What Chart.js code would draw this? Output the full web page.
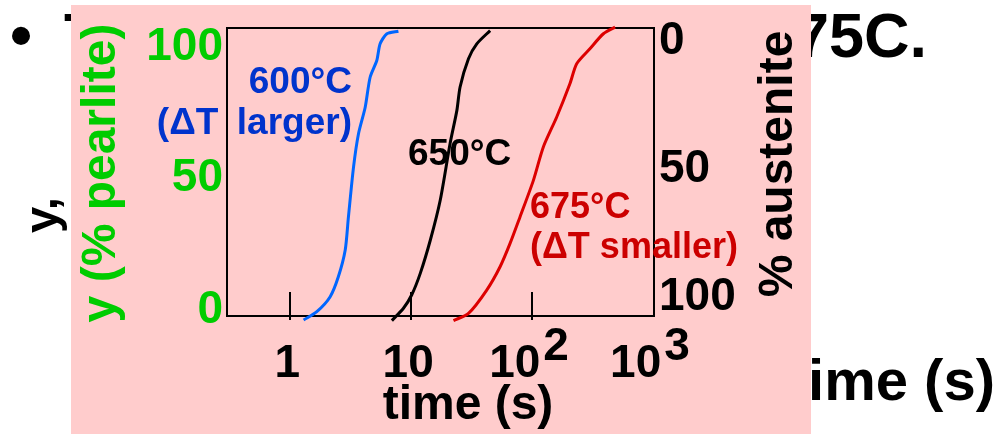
<!DOCTYPE html>
<html>
<head>
<meta charset="utf-8">
<script src="https://cdn.jsdelivr.net/npm/chart.js@4/dist/chart.umd.min.js"></script>
<style>
  body { margin: 0; background: #fff; }
  canvas { display: block; }
</style>
</head>
<body>
<canvas id="myChart" width="997" height="434"></canvas>
<script>
const FONT = '"Liberation Sans", Arial, sans-serif';

// curves: time (s) and % pearlite
const t600 = [1.29, 1.66, 2.14, 2.5, 2.85, 3.03, 3.34, 3.67, 4.17, 4.58, 5.2, 5.54, 6.3, 7.85];
const y600 = [-1.4, 1.5, 6.7, 13.6, 22.9, 34.4, 51.8, 63.3, 72.5, 82.9, 88.7, 94.5, 98, 98.9];

const t650 = [6.93, 8.64, 10.1, 11.9, 14.4, 17.4, 21, 23.9, 25.4, 29.8, 34.9, 45];
const y650 = [-1.6, 2.7, 7.3, 14.8, 26.3, 40.2, 59.9, 71.4, 79.5, 89.3, 94.5, 99.1];

const t675 = [22.4, 29.8, 42.2, 54.4, 65.8, 79.5, 102.6, 124, 160, 206, 234, 301, 389, 486];
const y675 = [-1.6, 0.9, 9, 17.1, 25.2, 34.4, 47.1, 58.7, 69.1, 80.7, 87.6, 92.8, 98, 100.3];

// tick labels
const xTickValues = [1, 10, 100, 1000];
const xTickBase = ["1", "10", "10", "10"];
const xTickExp = ["", "", "2", "3"];
const xTickMarks = [1, 10, 100];
const yLeftTicks = [0, 50, 100];
const yRightTicks = [0, 50, 100];

function pts(t, y) {
  return t.map((v, i) => ({ x: v, y: y[i] }));
}

const data = {
  datasets: [
    { label: "600°C", data: pts(t600, y600), borderColor: "#0066ff" },
    { label: "650°C", data: pts(t650, y650), borderColor: "#000000" },
    { label: "675°C", data: pts(t675, y675), borderColor: "#dd0000" },
  ],
};

const deco = {
  id: "deco",
  beforeDraw(chart) {
    const ctx = chart.ctx;
    ctx.save();
    ctx.fillStyle = "#fff";
    ctx.fillRect(0, 0, chart.width, chart.height);
    // slide text behind the pink panel
    ctx.fillStyle = "#000";
    ctx.textBaseline = "alphabetic";
    ctx.font = "bold 63px " + FONT;
    ctx.textAlign = "left";
    ctx.fillText("•", 10, 57);
    ctx.fillText("T", 64, 57);
    ctx.textAlign = "right";
    ctx.fillText("= 675C.", 927, 57);
    ctx.font = "bold 58px " + FONT;
    ctx.fillText("time (s)", 995, 400);
    ctx.save();
    ctx.translate(57, 233);
    ctx.rotate(-Math.PI / 2);
    ctx.textAlign = "left";
    ctx.font = "bold 47px " + FONT;
    ctx.fillText("y,", 0, 0);
    ctx.restore();
    // pink panel
    ctx.fillStyle = "#ffcccc";
    ctx.fillRect(71, 5, 740, 429);
    ctx.restore();
  },
  beforeDatasetsDraw(chart) {
    const ctx = chart.ctx;
    const a = chart.chartArea;
    const xs = chart.scales.x;
    ctx.save();
    ctx.strokeStyle = "#000";
    ctx.lineWidth = 2;
    ctx.strokeRect(a.left, a.top, a.right - a.left, a.bottom - a.top);
    xTickMarks.forEach((v) => {
      const px = Math.round(xs.getPixelForValue(v));
      ctx.beginPath();
      ctx.moveTo(px, a.bottom - 24);
      ctx.lineTo(px, a.bottom + 4);
      ctx.stroke();
    });
    ctx.restore();
  },
  afterDraw(chart) {
    const ctx = chart.ctx;
    const xs = chart.scales.x;
    const yl = chart.scales.yL;
    const yr = chart.scales.yR;
    ctx.save();
    ctx.textBaseline = "alphabetic";

    // x tick labels
    ctx.fillStyle = "#000";
    ctx.font = "bold 46px " + FONT;
    xTickValues.forEach((v, i) => {
      const px = xs.getPixelForValue(v) - 3;
      const wb = ctx.measureText(xTickBase[i]).width;
      const we = xTickExp[i] ? ctx.measureText(xTickExp[i]).width + 3 : 0;
      const left = px - (wb + we) / 2;
      ctx.textAlign = "left";
      ctx.fillText(xTickBase[i], left, 377);
      if (xTickExp[i]) ctx.fillText(xTickExp[i], left + wb + 3, 360);
    });

    // left ticks (% pearlite)
    ctx.textBaseline = "middle";
    ctx.fillStyle = "#00cc00";
    ctx.textAlign = "right";
    yLeftTicks.forEach((v) => {
      ctx.fillText(String(v), 223, yl.getPixelForValue(v));
    });
    // right ticks (% austenite)
    ctx.fillStyle = "#000";
    ctx.textAlign = "left";
    yRightTicks.forEach((v) => {
      ctx.fillText(String(v), 659, yr.getPixelForValue(v));
    });

    // axis titles
    ctx.textBaseline = "alphabetic";
    ctx.font = "bold 48px " + FONT;
    ctx.textAlign = "center";
    ctx.fillText("time (s)", 468, 419);
    ctx.save();
    ctx.translate(115, 173);
    ctx.rotate(-Math.PI / 2);
    ctx.fillStyle = "#00cc00";
    ctx.fillText("y (% pearlite)", 0, 0);
    ctx.restore();
    ctx.save();
    ctx.translate(792, 164);
    ctx.rotate(-Math.PI / 2);
    ctx.fillStyle = "#000";
    ctx.fillText("% austenite", 0, 0);
    ctx.restore();

    // curve labels
    ctx.font = "bold 37px " + FONT;
    ctx.fillStyle = "#0033cc";
    ctx.textAlign = "right";
    ctx.fillText("600°C", 352, 93);
    ctx.fillText("(ΔT\u2002larger)", 352, 134);
    ctx.fillStyle = "#000";
    ctx.textAlign = "left";
    ctx.fillText("650°C", 408, 165);
    ctx.fillStyle = "#cc0000";
    ctx.font = "bold 36px " + FONT;
    ctx.fillText("675°C", 530, 218);
    ctx.fillText("(ΔT smaller)", 530, 258);
    ctx.restore();
  },
};

const config = {
  type: "line",
  data: data,
  options: {
    responsive: false,
    animation: false,
    layout: { padding: { left: 227, top: 28, right: 343, bottom: 118 } },
    datasets: {
      line: { borderWidth: 3, pointRadius: 0, tension: 0.25, fill: false, clip: false },
    },
    plugins: { legend: { display: false }, tooltip: { enabled: false } },
    scales: {
      x: { type: "logarithmic", min: 0.3, max: 1020, display: false },
      y: { type: "linear", min: 0, max: 100, display: false },
      yL: { type: "linear", min: -2.3, max: 107.2, display: false },
      yR: { type: "linear", reverse: true, min: -5.1, max: 107.4, display: false },
    },
  },
  plugins: [deco],
};

const myChart = new Chart(document.getElementById("myChart"), config);
</script>
</body>
</html>
